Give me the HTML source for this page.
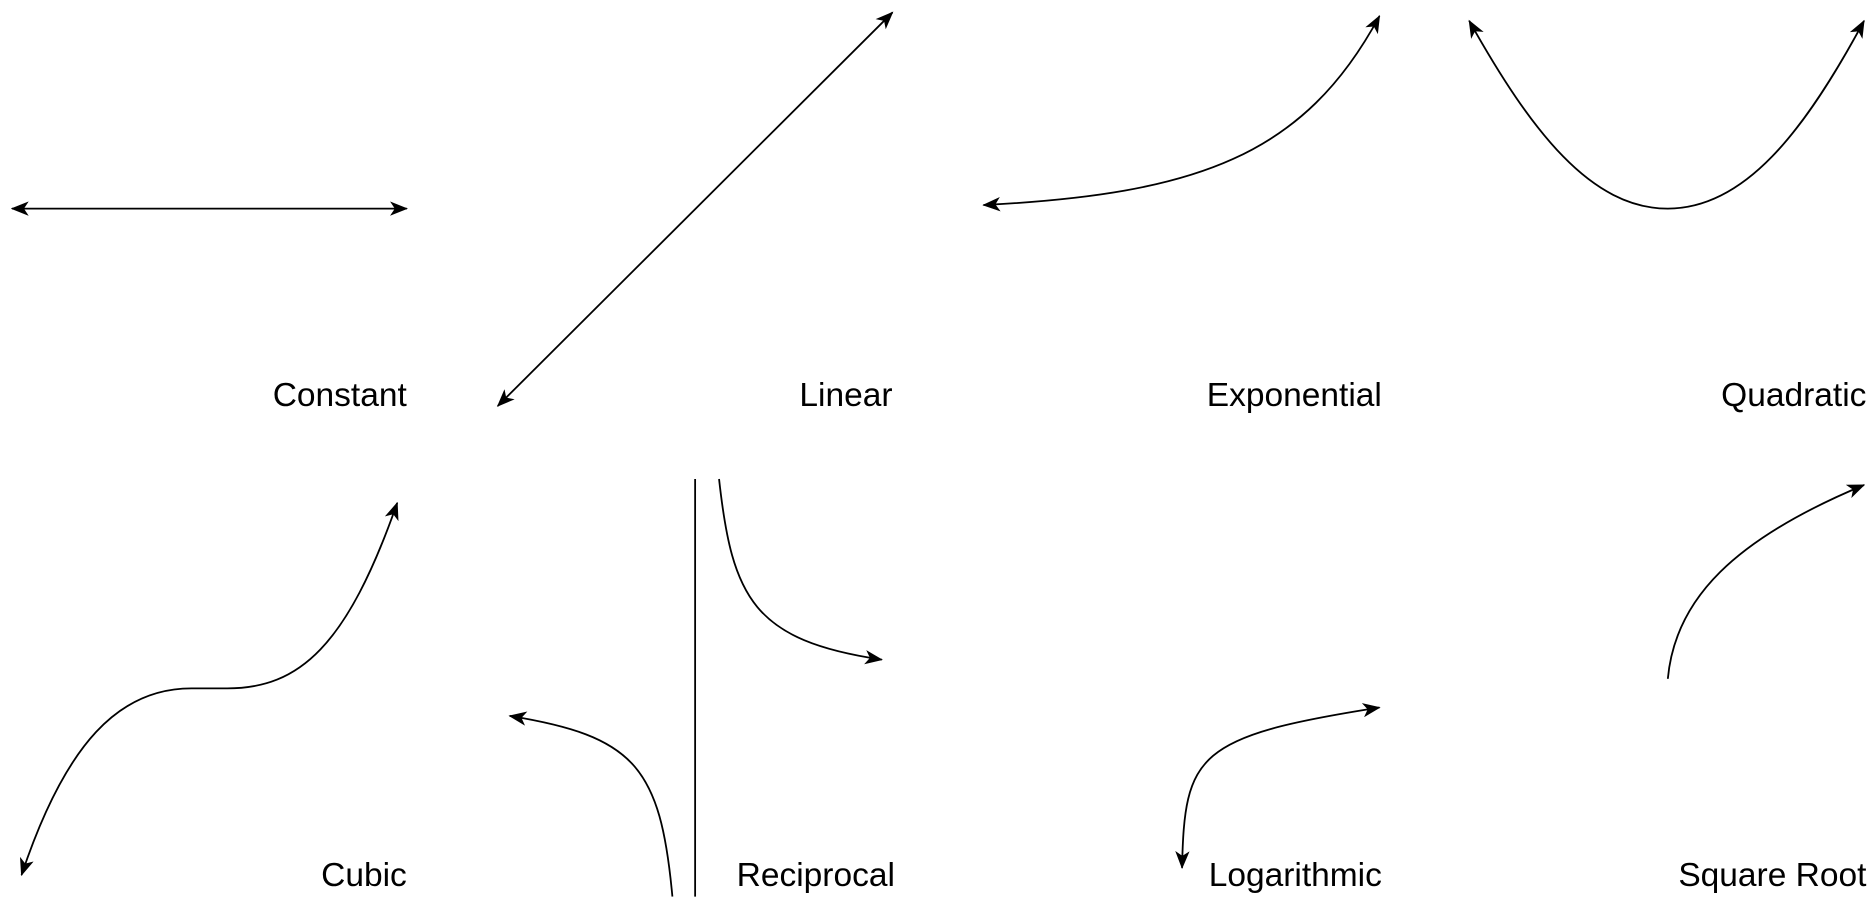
<!DOCTYPE html>
<html><head><meta charset="utf-8"><style>
html,body{margin:0;padding:0;background:#fff;}
svg{display:block;}
text{font-family:"Liberation Sans",Helvetica,Arial,sans-serif;font-size:28px;fill:#000;}
</style></head><body>
<svg width="1876" height="897" viewBox="0 0 1568 749" xmlns="http://www.w3.org/2000/svg">
<defs>
<marker id="a" viewBox="0 0 15 12" refX="14" refY="6" markerWidth="15" markerHeight="12" markerUnits="userSpaceOnUse" orient="auto-start-reverse">
<path d="M0,0 L15,6 L0,12 L4,6 z" fill="#000"/>
</marker>
</defs>
<g fill="none" stroke="#000" stroke-width="1.5">
<path d="M10,174 L340,174" marker-start="url(#a)" marker-end="url(#a)"/>
<path d="M416,339 L746,10" marker-start="url(#a)" marker-end="url(#a)"/>
<path d="M822,171 C1000,162 1090,130 1153,13" marker-start="url(#a)" marker-end="url(#a)"/>
<path d="M1228,17 C1280,110 1330,174 1394,174 C1458,174 1508,110 1558,17" marker-start="url(#a)" marker-end="url(#a)"/>
<path d="M18,731 C55,620 100,575 160,575 L190,575 C250,575 290,540 332,420" marker-start="url(#a)" marker-end="url(#a)"/>
<path d="M581,400 L581,749"/>
<path d="M601,400 C612,500 630,535 737,551" marker-end="url(#a)"/>
<path d="M562,749 C552,640 530,615 426,598" marker-end="url(#a)"/>
<path d="M988,725 C990,630 1000,615 1153,591" marker-start="url(#a)" marker-end="url(#a)"/>
<path d="M1394,567 C1400,500 1450,450 1558,405" marker-end="url(#a)"/>
</g>
<text x="340" y="339" text-anchor="end">Constant</text>
<text x="746" y="339" text-anchor="end">Linear</text>
<text x="1155" y="339" text-anchor="end">Exponential</text>
<text x="1560" y="339" text-anchor="end">Quadratic</text>
<text x="340" y="740" text-anchor="end">Cubic</text>
<text x="748" y="740" text-anchor="end">Reciprocal</text>
<text x="1155" y="740" text-anchor="end">Logarithmic</text>
<text x="1560" y="740" text-anchor="end">Square Root</text>
</svg>
</body></html>
